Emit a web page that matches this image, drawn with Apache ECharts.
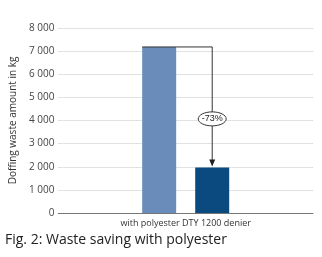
<!DOCTYPE html>
<html><head><meta charset="utf-8">
<script src="https://cdn.jsdelivr.net/npm/echarts@6/dist/echarts.min.js"></script>
<style>html,body{margin:0;padding:0;background:#fff}#c{width:322px;height:257px}</style>
</head><body><div id="c"></div>
<script>
var categories = ['with polyester DTY 1200 denier'];
var seriesBefore = [7180];
var seriesPolyester = [1970];
var yTicks = [0, 8000, 1000];
var changeLabel = '-73%';
var yTitle = 'Doffing waste amount in kg';
var caption = 'Fig. 2: Waste saving with polyester';

var FONT = '"Open Sans", sans-serif';
var chart = echarts.init(document.getElementById('c'), null, {renderer: 'canvas'});
chart.setOption({
  animation: false,
  textStyle: {fontFamily: FONT},
  grid: {left: 53, right: 9, top: 28, bottom: 44, containLabel: false},
  xAxis: {
    type: 'category', data: categories,
    axisLine: {lineStyle: {color: '#777', width: 1}},
    axisTick: {show: false},
    axisLabel: {fontSize: 9, color: '#333', margin: 6, fontFamily: FONT}
  },
  yAxis: {
    type: 'value', min: yTicks[0], max: yTicks[1], interval: yTicks[2],
    name: yTitle, nameLocation: 'middle', nameGap: 34, nameRotate: 90,
    nameTextStyle: {fontSize: 10, color: '#333', fontFamily: FONT},
    axisLine: {show: false}, axisTick: {show: false},
    axisLabel: {fontSize: 10, color: '#444', margin: 4, fontFamily: FONT,
      formatter: function (v) { return String(v).replace(/\B(?=(\d{3})+(?!\d))/g, ' '); }},
    splitLine: {lineStyle: {color: '#c4c4c4', type: [1, 1], width: 1}}
  },
  series: [
    {type: 'bar', data: seriesBefore, barWidth: 34, barGap: '56%', itemStyle: {color: '#6a8cba'}},
    {type: 'bar', data: seriesPolyester, barWidth: 34, itemStyle: {color: '#0b4a7e'}}
  ]
});

function drawAnnotation() {
  var m = chart.getModel();
  var l1 = m.getSeriesByIndex(0).getData().getItemLayout(0);
  var l2 = m.getSeriesByIndex(1).getData().getItemLayout(0);
  var y1 = chart.convertToPixel({yAxisIndex: 0}, seriesBefore[0]);
  var y2 = chart.convertToPixel({yAxisIndex: 0}, seriesPolyester[0]);
  var cx2 = l2.x + l2.width / 2;
  var yMid = chart.convertToPixel({yAxisIndex: 0}, 4070);
  chart.setOption({
    graphic: [
      {type: 'polyline', shape: {points: [[l1.x, y1], [cx2, y1], [cx2, y2 - 6]]},
       style: {stroke: '#333', lineWidth: 1, fill: null}, z: 10},
      {type: 'polygon', shape: {points: [[cx2 - 3, y2 - 8], [cx2 + 3, y2 - 8], [cx2, y2 - 1]]},
       style: {fill: '#222'}, z: 10},
      {type: 'ellipse', shape: {cx: cx2, cy: yMid, rx: 14, ry: 7},
       style: {fill: '#fff', stroke: '#333', lineWidth: 1}, z: 11},
      {type: 'text', x: cx2, y: yMid, z: 12,
       style: {text: changeLabel, fontSize: 9, fill: '#222', align: 'center', verticalAlign: 'middle', font: '9px ' + FONT}},
      {type: 'text', left: 5, top: 233, z: 12,
       style: {text: caption, fill: '#222', font: '14px ' + FONT}}
    ]
  });
}
drawAnnotation();
</script></body></html>
